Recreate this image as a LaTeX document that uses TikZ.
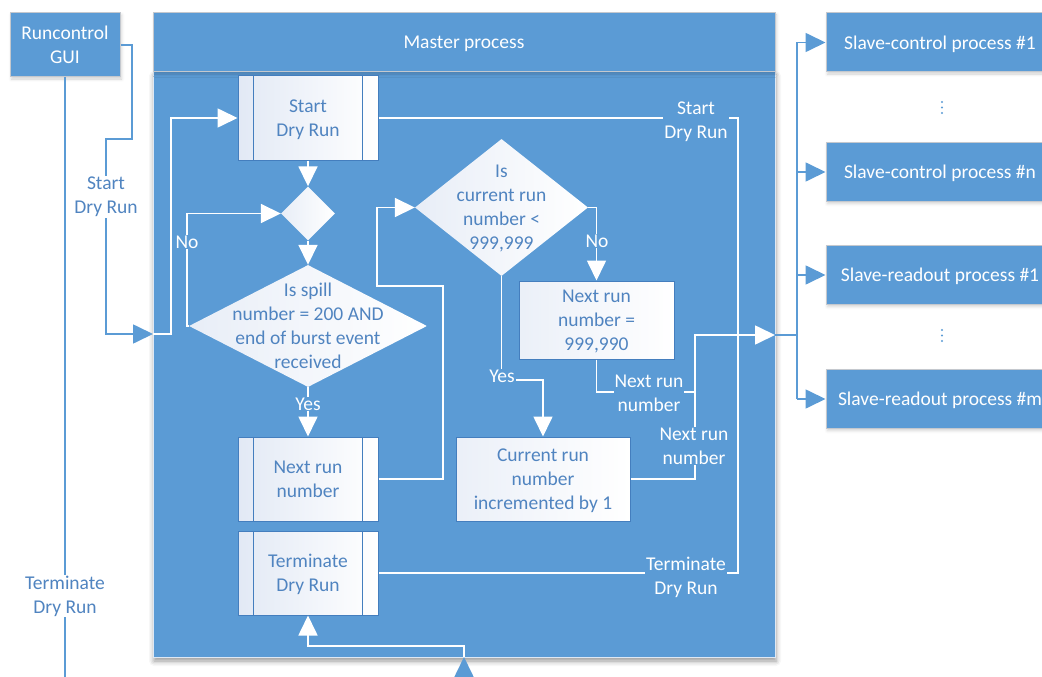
\documentclass[tikz,border=0pt]{standalone}
\usepackage{fontspec}
\setmainfont{Carlito}
\usetikzlibrary{arrows.meta,shapes.geometric,shadows.blur}
\definecolor{procblue}{RGB}{91,155,213}
\definecolor{edgegray}{RGB}{196,200,206}
\definecolor{bodyedge}{RGB}{222,232,244}
\definecolor{boxline}{RGB}{68,126,190}
\definecolor{boxtext}{RGB}{80,132,192}
\definecolor{paleshade}{RGB}{226,233,245}
\begin{document}
\begin{tikzpicture}[x=1pt,y=-1pt,
  font=\fontsize{19.5}{24}\selectfont,
  bluebox/.style={rectangle, draw=edgegray, line width=1pt, fill=procblue, text=white,
    align=center, inner sep=0pt, text depth=0pt,
    blur shadow={shadow xshift=1.5pt, shadow yshift=-2pt, shadow blur radius=3pt, shadow opacity=18}},
  procbox/.style={rectangle, draw=boxline, line width=1pt, left color=paleshade, right color=white,
    text=boxtext, align=center, minimum width=140pt, minimum height=84pt, inner sep=0pt, text depth=0pt},
  plainbox/.style={procbox, left color=paleshade!70, right color=white},
  decide/.style={diamond, draw=none, left color=paleshade!80, right color=white, inner sep=0pt},
  dtext/.style={text=boxtext, align=center, inner sep=0pt, text depth=0pt},
  wline/.style={draw=white, line width=1.7pt},
  bline/.style={draw=procblue, line width=1.7pt},
  arr/.style={-{Triangle[length=20pt,width=19pt]}},
  lblw/.style={fill=procblue, text=white, align=center, inner sep=1pt},
  lblo/.style={fill=white, text=boxtext, align=center, inner sep=1pt},
]
\useasboundingbox (0,0) rectangle (1042,677);

% master process frame
\node[bluebox, draw=bodyedge, minimum width=622pt, minimum height=585pt,
  blur shadow={shadow xshift=1pt, shadow yshift=-4pt, shadow blur radius=5pt, shadow opacity=22}]
  (body) at (464,364.5) {};
\node[bluebox, minimum width=622pt, minimum height=59pt] (master) at (464,42.5) {Master process};

% run control GUI
\node[bluebox, minimum width=110pt, minimum height=64pt] (gui) at (65,45) {Runcontrol\\GUI};

% slave processes
\node[bluebox, minimum width=228pt, minimum height=59pt] (sc1) at (940,42.5) {Slave-control process \#1};
\node[bluebox, minimum width=228pt, minimum height=59pt] (scn) at (940,172) {Slave-control process \#n};
\node[bluebox, minimum width=228pt, minimum height=59pt] (sr1) at (940,275) {Slave-readout process \#1};
\node[bluebox, minimum width=228pt, minimum height=59pt] (srm) at (940,399) {Slave-readout process \#m};
\foreach \y in {102,107.5,113,330,335.5,341} \fill[procblue] (942,\y) circle (1.1pt);

% flowchart inside the master process
\node[procbox] (start) at (308,118) {Start\\Dry Run};
\node[procbox] (nextrun) at (308,479) {Next run\\number};
\node[procbox] (term) at (308,573) {Terminate\\Dry Run};
\foreach \n in {start,nextrun,term}{
  \draw[boxline, line width=1pt] ([xshift=16pt]\n.north west) -- ([xshift=16pt]\n.south west);
  \draw[boxline, line width=1pt] ([xshift=-16pt]\n.north east) -- ([xshift=-16pt]\n.south east);
}
\node[decide, minimum width=54pt, minimum height=54pt] (sdia) at (308,213.5) {};
\node[decide, minimum width=238pt, minimum height=122pt] (spill) at (308,326) {};
\node[dtext] at (spill) {Is spill\\number = 200 AND\\end of burst event\\received};
\node[decide, minimum width=173pt, minimum height=137pt] (cdia) at (501.5,207.5) {};
\node[dtext] at (cdia) {Is\\current run\\number <\\999,999};
\node[plainbox, minimum width=155pt, minimum height=78pt] (nrbox) at (596.5,320) {Next run\\number =\\999,990};
\node[plainbox, minimum width=174pt, minimum height=84pt] (curbox) at (543,479) {Current run\\number\\incremented by 1};

% named free ends
\coordinate (min) at (153,334);
\coordinate (mout) at (775,335);
\coordinate (bus) at (797,0);
\coordinate (bin) at (464,700);
\coordinate (guiend) at (65,700);
\coordinate (mbottom) at (464,657);

% run control links (outside)
\draw[bline, arr] (gui.east) -- (132,45) -- (132,139) -- (106,139) -- (106,334) -- (min);
\node[lblo] at (106,197) {Start\\Dry Run};
\draw[bline] (gui.south) -- (guiend);
\node[lblo] at (65,596) {Terminate\\Dry Run};
\draw[bline, arr] (bin) -- (mbottom);

% links inside the master process
\draw[wline, arr] (min) -- (171,334) |- (start.west);
\draw[wline, arr] (start) -- (sdia);
\draw[wline, arr] (sdia) -- (spill);
\draw[wline, arr] (spill.west) -- (187,326) |- (sdia.west);
\node[lblw] at (187,242) {No};
\draw[wline, arr] (spill) -- (nextrun);
\node[lblw] at (308,404) {Yes};
\draw[wline, arr] (nextrun.east) -- (443,479) -- (443,286) -- (377,286) |- (cdia.west);
\draw[wline, arr] (cdia.east) -| (nrbox.north);
\node[lblw] at (597,241) {No};
\draw[wline, arr] (cdia.south) -- (501.5,380) -| (curbox.north);
\node[lblw] at (502,376) {Yes};
\draw[wline] (nrbox.south) |- (695,392);
\node[lblw] at (649,393) {Next run\\number};
\draw[wline, arr] (curbox.east) -| (695,335) -- (mout);
\node[lblw] at (694,446) {Next run\\number};
\draw[wline] (start.east) -| (738,573) -- (term.east);
\node[lblw] at (696,121.5) {Start\\Dry Run};
\node[lblw] at (686,577) {Terminate\\Dry Run};
\draw[wline, arr] (mbottom) -- (464,646) -| (term.south);

% fan-out to the slave processes
\draw[bline] (mout) -- (bus |- mout);
\draw[bline] (bus |- sc1.west) -- (bus |- srm.west);
\foreach \s in {sc1,scn,sr1,srm} \draw[bline, arr] (bus |- \s.west) -- (\s.west);
\end{tikzpicture}
\end{document}
